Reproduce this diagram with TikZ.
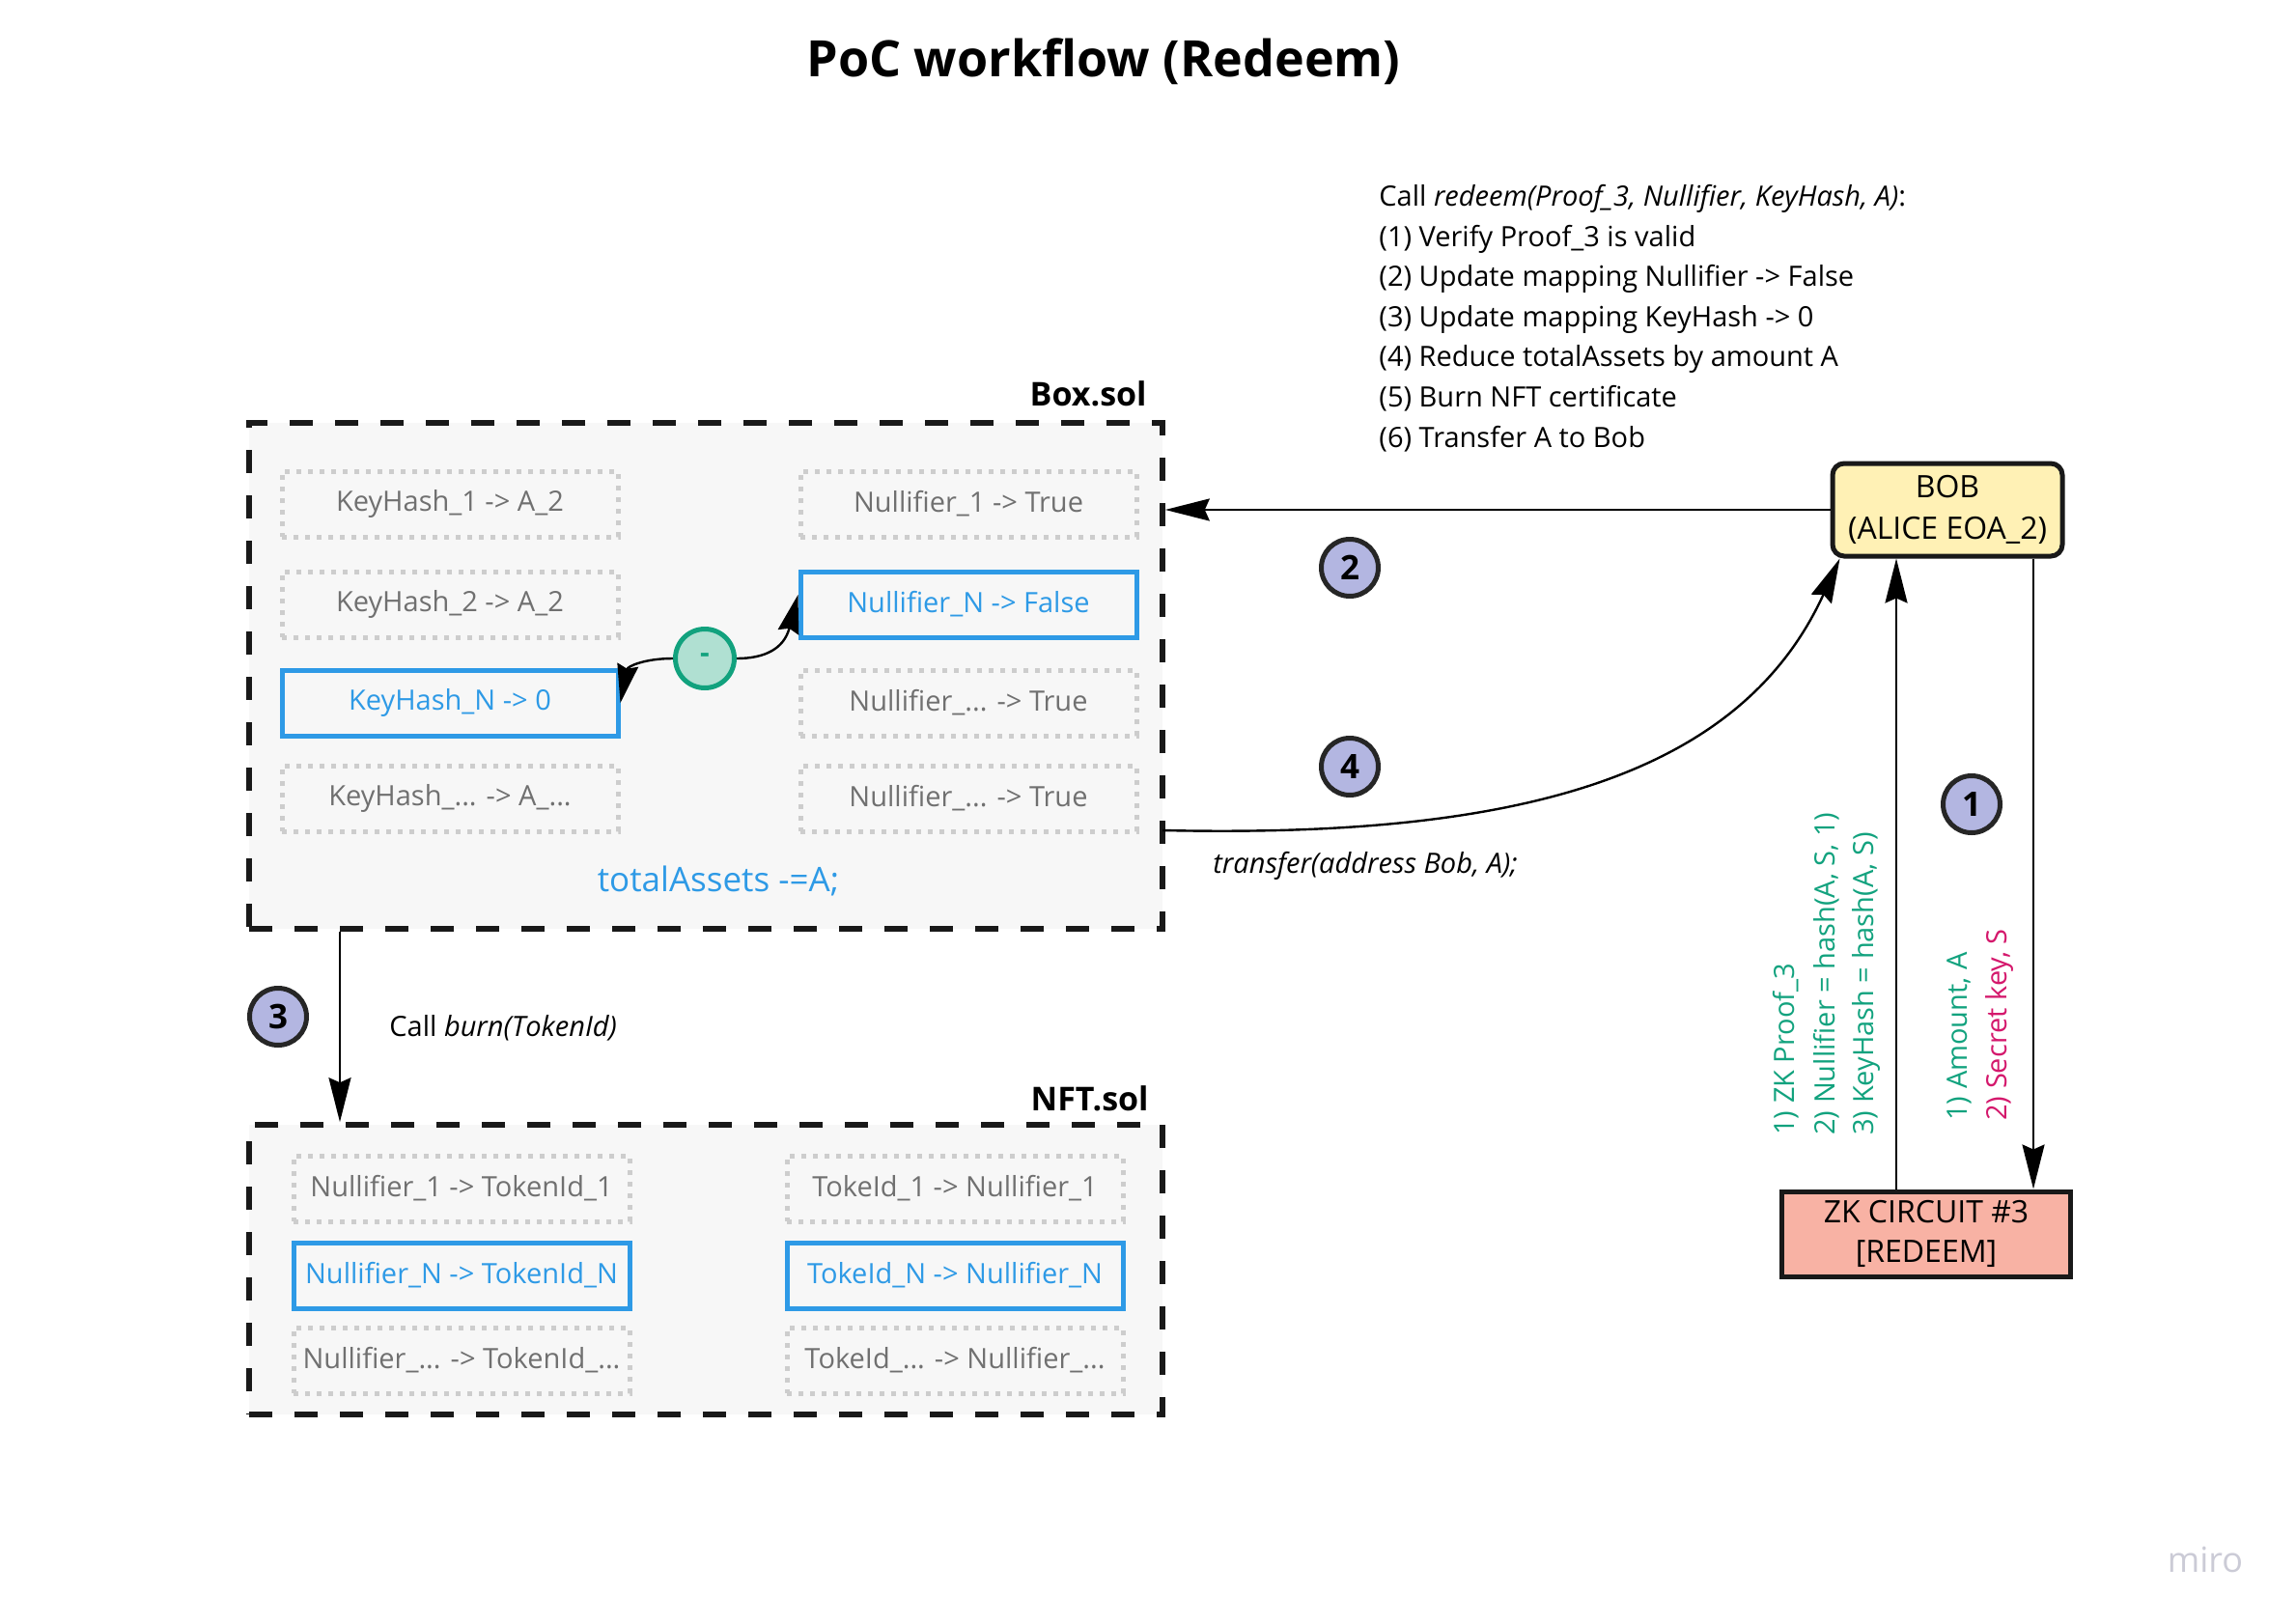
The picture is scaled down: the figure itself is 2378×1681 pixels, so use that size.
\documentclass[tikz,border=0pt]{standalone}
\usepackage{fontspec}
\setmainfont{Open Sans}
\usetikzlibrary{arrows.meta}

\definecolor{mapblue}{HTML}{2E9AE6}
\definecolor{txtgray}{HTML}{707070}
\definecolor{dotgray}{HTML}{CDCDCD}
\definecolor{boxbg}{HTML}{F7F7F7}
\definecolor{lavender}{HTML}{B3B6E1}
\definecolor{bobfill}{HTML}{FFF1B5}
\definecolor{zkfill}{HTML}{F8B2A4}
\definecolor{zkgreen}{HTML}{12A27E}
\definecolor{zkpink}{HTML}{D4186C}
\definecolor{minusfill}{HTML}{B0E0D2}
\definecolor{mirogray}{HTML}{CBCBD6}

\begin{document}
\begin{tikzpicture}[x=0.5pt,y=0.5pt,yscale=-1,xscale=1,
  txt/.style={inner sep=0pt, font=\fontsize{14.5}{17}\selectfont},
  cell/.style={txt, minimum width=174pt, minimum height=34pt},
  oldcell/.style={cell, draw=dotgray, line width=2.5pt, dash pattern=on 2.5pt off 3.5pt, text=txtgray},
  newcell/.style={cell, draw=mapblue, line width=2.5pt, text=mapblue},
  contract/.style={draw=black!90, line width=2.8pt, dash pattern=on 12pt off 11.5pt, fill=boxbg, inner sep=0pt},
  stepno/.style={circle, draw=black!85, line width=2.5pt, fill=lavender, minimum size=29.5pt, inner sep=0pt, font=\bfseries\fontsize{17.5}{17.5}\selectfont},
  actor/.style={draw=black!90, line width=2.5pt, align=center, inner sep=0pt, font=\fontsize{16}{21.5}\selectfont},
  arr/.style={line width=1.2pt, -{Stealth[length=23pt,width=11.5pt,inset=2.5pt]}},
  smallarr/.style={line width=1.2pt, -{Stealth[length=20pt,width=11pt,inset=2pt]}},
]
\useasboundingbox (0,0) rectangle (2378,1681);

% Title
\node[font=\bfseries\fontsize{26}{30}\selectfont] (title) at (1143,64) {PoC workflow (Redeem)};

%Shape: Rectangle Box.sol
\node[contract, minimum width=473pt, minimum height=262pt] (box) at (731,700) {};
\node[anchor=base east, inner sep=0pt, font=\bfseries\fontsize{17}{20}\selectfont] (boxname) at (1188,420) {Box.sol};

% KeyHash mapping
\node[oldcell] (key1) at (466,522) {KeyHash\_1 -> A\_2};
\node[oldcell] (key2) at (466,626) {KeyHash\_2 -> A\_2};
\node[newcell] (keyN) at (466,728) {KeyHash\_N -> 0};
\node[oldcell] (keyX) at (466,827) {KeyHash\_... -> A\_...};
% Nullifier mapping
\node[oldcell] (null1) at (1003,522) {Nullifier\_1 -> True};
\node[newcell] (nullN) at (1003,626) {Nullifier\_N -> False};
\node[oldcell] (nullX) at (1003,728) {Nullifier\_... -> True};
\node[oldcell] (nullY) at (1003,827) {Nullifier\_... -> True};

% Text Node
\node[txt, text=mapblue, font=\fontsize{17.5}{20}\selectfont] (total) at (744,912) {totalAssets -=A;};

%Shape: Circle minus
\node[circle, draw=zkgreen, line width=2.5pt, fill=minusfill, minimum size=30.5pt, inner sep=0pt, text=zkgreen, font=\bfseries\fontsize{15}{15}\selectfont] (minus) at (730,682) {-};
\draw[smallarr] (minus.west) .. controls (668,682) and (650,690) .. (keyN.east);
\draw[smallarr] (minus.east) .. controls (792,682) and (812,672) .. ([yshift=-5pt]nullN.west);

%Shape: Rectangle NFT.sol
\node[contract, minimum width=473pt, minimum height=150pt] (nft) at (731,1315) {};
\node[anchor=base east, inner sep=0pt, font=\bfseries\fontsize{17}{20}\selectfont] (nftname) at (1190,1150) {NFT.sol};

\node[oldcell] (tok1) at (478,1231) {Nullifier\_1 -> TokenId\_1};
\node[newcell] (tokN) at (478,1321) {Nullifier\_N -> TokenId\_N};
\node[oldcell] (tokX) at (478,1409) {Nullifier\_... -> TokenId\_...};
\node[oldcell] (rev1) at (989,1231) {TokeId\_1 -> Nullifier\_1};
\node[newcell] (revN) at (989,1321) {TokeId\_N -> Nullifier\_N};
\node[oldcell] (revX) at (989,1409) {TokeId\_... -> Nullifier\_...};

%Shape: Rounded Rectangle BOB
\node[actor, rounded corners=6pt, fill=bobfill, minimum width=119pt, minimum height=48pt] (bob) at (2017,528) {BOB\\(ALICE EOA\_2)};
%Shape: Rectangle ZK circuit
\node[actor, fill=zkfill, minimum width=149.5pt, minimum height=44pt, font=\fontsize{16}{20.5}\selectfont] (zk) at (1995,1278) {ZK CIRCUIT \#3\\{[}REDEEM{]}};

% Text Node
\node[txt, anchor=north west, align=left, font=\fontsize{14.5}{20.8}\selectfont] (steps) at (1428,191) {Call \textit{redeem(Proof\_3, Nullifier, KeyHash, A)}:\\
(1) Verify Proof\_3 is valid\\
(2) Update mapping Nullifier -> False\\
(3) Update mapping KeyHash -> 0\\
(4) Reduce totalAssets by amount A\\
(5) Burn NFT certificate\\
(6) Transfer A to Bob};

% Straight Lines
\coordinate (up) at (1964,0);
\coordinate (down) at (2106,0);
\coordinate (burnx) at (352,0);
\coordinate (tstart) at (1204,860);
\draw[arr] (bob.west) -- (bob.west -| box.east);
\draw[arr] (zk.north -| up) -- (bob.south -| up);
\draw[arr] (bob.south -| down) -- (zk.north -| down);
\draw[arr] (box.south -| burnx) -- (nft.north -| burnx);
\draw[arr] (tstart) .. controls (1560,868) and (1800,810) .. ([xshift=5pt]bob.south west);

% Step numbers
\node[stepno] (s1) at (2042,833) {1};
\node[stepno] (s2) at (1398,588) {2};
\node[stepno] (s3) at (288,1053) {3};
\node[stepno] (s4) at (1398,794) {4};

% Text Node
\node[txt, anchor=west, font=\itshape\fontsize{14.5}{17}\selectfont] (transfer) at (1256,897) {transfer(address Bob, A);};
\node[txt, anchor=west] (burn) at (403,1065) {Call \textit{burn(TokenId)}};

% Text Node rotated
\node[txt, rotate=90, anchor=west, text=zkgreen] (zkproof) at (1850,1176) {1) ZK Proof\_3};
\node[txt, rotate=90, anchor=west, text=zkgreen] (nullhash) at (1892,1176) {2) Nullifier = hash(A, S, 1)};
\node[txt, rotate=90, anchor=west, text=zkgreen] (keyhash) at (1933,1176) {3) KeyHash = hash(A, S)};
\node[txt, rotate=90, anchor=west, text=zkgreen] (amount) at (2029,1161) {1) Amount, A};
\node[txt, rotate=90, anchor=west, text=zkpink] (secret) at (2071,1161) {2) Secret key, S};

% Text Node
\node[txt, text=mirogray, font=\fontsize{18}{20}\selectfont] (miro) at (2284,1615) {miro};

\end{tikzpicture}
\end{document}
